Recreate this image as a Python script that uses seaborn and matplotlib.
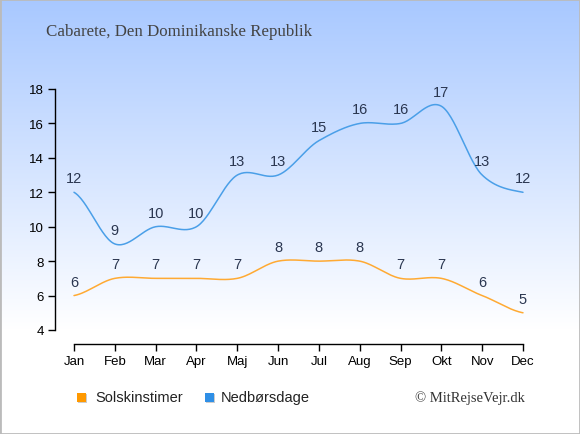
import numpy as np
import pandas as pd
import matplotlib
matplotlib.use("Agg")
import matplotlib.pyplot as plt
import seaborn as sns
from matplotlib.patches import Rectangle

months = ["Jan", "Feb", "Mar", "Apr", "Maj", "Jun", "Jul", "Aug", "Sep", "Okt", "Nov", "Dec"]
sun_hours = [6, 7, 7, 7, 7, 8, 8, 8, 7, 7, 6, 5]
rain_days = [12, 9, 10, 10, 13, 13, 15, 16, 16, 17, 13, 12]
yticks = [4, 6, 8, 10, 12, 14, 16, 18]
title = "Cabarete, Den Dominikanske Republik"
series_names = ["Solskinstimer", "Nedbørsdage"]
credit = "© MitRejseVejr.dk"

ORANGE_LINE = "#FFAA33"
ORANGE_BOX = "#FF9900"
BLUE_LINE = "#4A9FE8"
BLUE_BOX = "#2F8FE6"
LABEL_COLOR = "#2A3650"

sns.set_style("white")
plt.rcParams['font.family'] = ['Liberation Sans', 'DejaVu Sans']

W, H = 580, 435
fig = plt.figure(figsize=(W / 100, H / 100), dpi=100)

# background gradient
bg = fig.add_axes([0, 0, 1, 1], zorder=-10)
top = np.array([0xA8, 0xC8, 0xFF]) / 255.0
bot = np.array([1.0, 1.0, 1.0])
t = np.linspace(0, 1, 435)[:, None]
t = np.clip(t / 0.76, 0, 1)
grad = top[None, :] * (1 - t) + bot[None, :] * t
grad = np.clip(grad, 0, 1)
bg.imshow(grad[:, None, :].repeat(2, axis=1), aspect="auto", extent=[0, 1, 0, 1])
bg.set_xlim(0, 1); bg.set_ylim(0, 1); bg.axis("off")
bg.add_patch(Rectangle((0, 0), 1, 1, transform=bg.transAxes, fill=False,
                       edgecolor="#BBBBBB", linewidth=2))

# axes geometry in pixels
ax_left, ax_right = 55, 545
ax_top, ax_bot = 90, 331
ax = fig.add_axes([ax_left / W, 1 - ax_bot / H, (ax_right - ax_left) / W, (ax_bot - ax_top) / H])
ax.patch.set_alpha(0)

px_per_month = (523 - 74) / 11
xmin = -(74 - ax_left) / px_per_month
xmax = 11 + (ax_right - 523) / px_per_month
ax.set_xlim(xmin, xmax)
ax.set_ylim(4, 18)


def catmull(y, n=30):
    y = np.asarray(y, float)
    x = np.arange(len(y), dtype=float)
    yp = np.concatenate([[y[0]], y, [y[-1]]])
    xs, ys = [], []
    for i in range(len(y) - 1):
        p0, p1, p2, p3 = yp[i], yp[i + 1], yp[i + 2], yp[i + 3]
        m1 = (p2 - p0) / 2 * 0.9
        m2 = (p3 - p1) / 2 * 0.9
        tt = np.linspace(0, 1, n, endpoint=False)
        h00 = 2 * tt**3 - 3 * tt**2 + 1
        h10 = tt**3 - 2 * tt**2 + tt
        h01 = -2 * tt**3 + 3 * tt**2
        h11 = tt**3 - tt**2
        xs.append(x[i] + tt)
        ys.append(h00 * p1 + h10 * m1 + h01 * p2 + h11 * m2)
    xs.append([x[-1]]); ys.append([y[-1]])
    return np.concatenate(xs), np.concatenate(ys)

for vals, col in [(sun_hours, ORANGE_LINE), (rain_days, BLUE_LINE)]:
    sx, sy = catmull(vals)
    df = pd.DataFrame({"x": sx, "y": sy})
    sns.lineplot(data=df, x="x", y="y", ax=ax, color=col, linewidth=1.1, sort=False)
    for i, v in enumerate(vals):
        ax.annotate(str(v), (i, v), xytext=(0, 5), textcoords="offset points",
                    ha="center", va="bottom", fontsize=10.5, color=LABEL_COLOR)

ax.set_xlabel(""); ax.set_ylabel("")
ax.set_xticks(range(12))
ax.set_xticklabels(months)
ax.set_yticks(yticks)
ax.set_yticklabels([str(v) for v in yticks])
for s in ["top", "right"]:
    ax.spines[s].set_visible(False)
ax.spines["left"].set_bounds(4, 18)
ax.spines["bottom"].set_bounds(0, 11)
ax.spines["bottom"].set_position(("outward", 10))
for s in ["left", "bottom"]:
    ax.spines[s].set_color("black")
    ax.spines[s].set_linewidth(1)
ax.tick_params(axis="both", which="both", direction="out", length=5, width=1,
               colors="black", labelsize=9.5, pad=3, left=True, bottom=True)

fig.text(46 / W, 1 - 32 / H, title, family=["Liberation Serif", "DejaVu Serif"], fontsize=12.2,
         color="#444444", ha="left", va="center")

# legend
ly = 1 - 398 / H
sq = 9
for xpx, col in [(77, ORANGE_BOX), (205, BLUE_BOX)]:
    fig.patches.append(Rectangle(((xpx + 1) / W, ly - (sq / 2 + 1) / H), sq / W, sq / H,
                                 transform=fig.transFigure, facecolor="#CCCCCC", edgecolor="none"))
    fig.patches.append(Rectangle((xpx / W, ly - sq / 2 / H), sq / W, sq / H,
                                 transform=fig.transFigure, facecolor=col, edgecolor="none"))
fig.text(95 / W, ly, series_names[0], fontsize=10.5, color="#222222", ha="left", va="center")
fig.text(221 / W, ly, series_names[1], fontsize=10.5, color="#222222", ha="left", va="center")
fig.text(525 / W, ly, credit, family=["Liberation Serif", "DejaVu Serif"], fontsize=10.5,
         color="#333333", ha="right", va="center")

fig.savefig("out.png", dpi=100)
